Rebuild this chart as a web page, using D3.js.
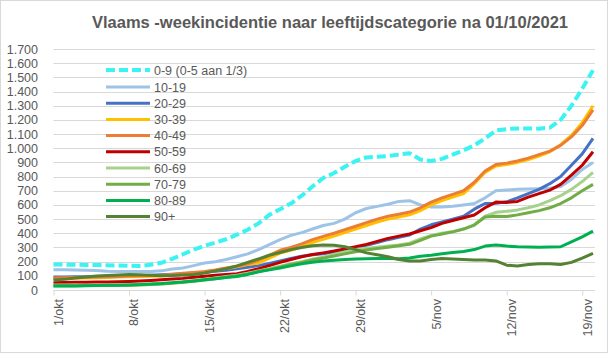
<!DOCTYPE html>
<html>
<head>
<meta charset="utf-8">
<script src="https://cdn.jsdelivr.net/npm/d3@7"></script>
<style>
  body { margin: 0; background: #fff; }
  text { font-family: "Liberation Sans", Arial, sans-serif; fill: #595959; }
</style>
</head>
<body>
<div id="chart"></div>
<script>
// dagen 1/okt .. 20/nov
const categories = [
  ...d3.range(1, 32).map(d => `${d}/okt`),
  ...d3.range(1, 21).map(d => `${d}/nov`)
];
const tickLabels = ['1/okt', '8/okt', '15/okt', '22/okt', '29/okt', '5/nov', '12/nov', '19/nov'];
const yTicks = d3.range(0, 1701, 100);

const s0_9 = [180, 179, 178, 177, 176, 175, 173, 171, 170, 178, 192, 220, 252, 285, 312, 334, 358, 390, 425, 470,
  530, 570, 610, 665, 730, 790, 825, 870, 910, 935, 940, 945, 955, 965, 920, 910, 925, 955, 985, 1020,
  1070, 1125, 1135, 1140, 1140, 1138, 1145, 1200, 1300, 1420, 1550];
const s10_19 = [142, 142, 141, 140, 138, 132, 130, 130, 130, 131, 135, 148, 155, 172, 190, 200, 215, 235, 255, 285,
  320, 355, 385, 405, 430, 455, 470, 500, 545, 575, 590, 605, 625, 630, 600, 585, 585, 590, 600, 610,
  650, 700, 705, 710, 712, 715, 718, 730, 780, 850, 900];
const s20_29 = [92, 92, 93, 93, 94, 95, 97, 99, 101, 104, 108, 111, 115, 120, 125, 132, 140, 150, 160, 172,
  188, 205, 222, 238, 248, 255, 268, 282, 298, 315, 335, 355, 372, 388, 430, 460, 480, 500, 520, 570,
  610, 612, 622, 650, 680, 710, 750, 800, 880, 960, 1070];
const s30_39 = [80, 81, 83, 85, 87, 89, 91, 93, 95, 97, 99, 105, 113, 119, 125, 137, 151, 163, 180, 190,
  225, 260, 280, 305, 335, 358, 380, 405, 430, 455, 480, 500, 515, 530, 560, 600, 630, 655, 680, 750,
  830, 875, 885, 900, 920, 945, 975, 1025, 1090, 1180, 1300];
const s40_49 = [85, 86, 88, 90, 92, 94, 96, 98, 100, 102, 104, 110, 118, 124, 130, 142, 156, 168, 185, 210,
  245, 280, 300, 325, 355, 378, 400, 425, 450, 475, 500, 520, 535, 550, 580, 620, 650, 675, 700, 760,
  840, 885, 895, 910, 930, 955, 980, 1020, 1080, 1160, 1270];
const s50_59 = [52, 53, 54, 55, 56, 57, 58, 60, 63, 67, 72, 77, 82, 90, 97, 104, 110, 115, 130, 150,
  172, 195, 215, 235, 250, 262, 275, 290, 305, 322, 343, 364, 380, 395, 418, 440, 470, 490, 510, 529,
  580, 620, 618, 625, 655, 680, 705, 745, 810, 880, 975];
const s60_69 = [35, 35, 35, 34, 34, 34, 35, 36, 38, 40, 44, 50, 58, 66, 75, 85, 95, 105, 118, 135,
  150, 168, 185, 200, 218, 232, 250, 268, 285, 295, 302, 310, 318, 330, 360, 385, 400, 412, 430, 460,
  520, 548, 555, 565, 580, 600, 630, 665, 710, 765, 830];
const s70_79 = [30, 30, 30, 31, 31, 32, 33, 34, 36, 39, 43, 48, 55, 62, 70, 80, 90, 100, 113, 130,
  145, 162, 180, 195, 212, 225, 240, 255, 270, 282, 292, 302, 312, 322, 350, 380, 395, 410, 430, 458,
  515, 520, 518, 530, 545, 560, 580, 610, 650, 700, 745];
const s80_89 = [28, 28, 29, 30, 32, 33, 34, 36, 38, 42, 46, 52, 57, 64, 72, 80, 88, 95, 110, 128,
  142, 155, 170, 185, 195, 205, 210, 215, 218, 220, 222, 222, 220, 225, 238, 245, 255, 265, 272, 285,
  310, 318, 310, 305, 303, 302, 303, 305, 340, 375, 415];
const s90 = [70, 75, 85, 92, 98, 102, 106, 110, 108, 104, 100, 102, 106, 110, 120, 135, 150, 170, 195, 220,
  245, 265, 285, 300, 312, 318, 315, 305, 285, 262, 248, 235, 215, 205, 205, 215, 222, 218, 215, 212,
  212, 205, 175, 170, 180, 185, 185, 180, 195, 225, 258];

const seriesNames = ['0-9 (0-5 aan 1/3)', '10-19', '20-29', '30-39', '40-49', '50-59', '60-69', '70-79', '80-89', '90+'];
const seriesValues = [s0_9, s10_19, s20_29, s30_39, s40_49, s50_59, s60_69, s70_79, s80_89, s90];
const seriesColors = ['#3CF3F3', '#9DC3E6', '#4472C4', '#FFC000', '#ED7D31', '#C00000', '#A9D18E', '#70AD47', '#00B050', '#548235'];

const width = 608;
const height = 353;
const plotLeft = 53.5;
const plotRight = 593;
const plotTop = 49;
const plotBottom = 290;

const svg = d3.select('#chart').append('svg')
  .attr('width', width)
  .attr('height', height);

svg.append('rect')
  .attr('x', 0.5).attr('y', 0.5)
  .attr('width', width - 1).attr('height', height - 1)
  .attr('fill', '#fff')
  .attr('stroke', '#D9D9D9');

const x = d3.scalePoint().domain(categories).range([plotLeft, plotRight]);
const y = d3.scaleLinear().domain([0, 1700]).range([plotBottom, plotTop]);

const nl = d3.formatLocale({ decimal: ',', thousands: '.', grouping: [3], currency: ['€', ''] });
const fmt = nl.format(',');

// rasterlijnen
svg.append('g')
  .selectAll('line')
  .data(yTicks.slice(1))
  .enter()
  .append('line')
  .attr('x1', plotLeft).attr('x2', 595)
  .attr('y1', d => Math.round(y(d)) + 0.5)
  .attr('y2', d => Math.round(y(d)) + 0.5)
  .attr('stroke', '#D9D9D9');

// y-as labels
svg.append('g')
  .selectAll('text')
  .data(yTicks)
  .enter()
  .append('text')
  .attr('x', 38)
  .attr('y', d => y(d))
  .attr('dy', '0.36em')
  .attr('text-anchor', 'end')
  .attr('font-size', 12.5)
  .text(d => fmt(d));

// x-as
const xAxis = d3.axisBottom(x)
  .tickValues(tickLabels)
  .tickSize(5)
  .tickFormat('');
const gx = svg.append('g')
  .attr('transform', `translate(0,${Math.round(plotBottom) + 0.5})`)
  .call(xAxis);
gx.select('.domain').attr('stroke', '#D9D9D9').attr('d', `M${plotLeft},0H595`);
gx.selectAll('.tick line').attr('stroke', '#D9D9D9');

svg.append('g')
  .selectAll('text')
  .data(tickLabels)
  .enter()
  .append('text')
  .attr('transform', d => `translate(${x(d) + 5},299) rotate(-90)`)
  .attr('text-anchor', 'end')
  .attr('dy', '0.35em')
  .attr('font-size', 12.5)
  .text(d => d);

// lijnen
const line = d3.line()
  .x((d, i) => x(categories[i]))
  .y(d => y(d));

svg.append('g')
  .selectAll('path')
  .data(seriesValues)
  .enter()
  .append('path')
  .attr('d', line)
  .attr('fill', 'none')
  .attr('stroke', (d, i) => seriesColors[i])
  .attr('stroke-width', (d, i) => (i === 0 ? 4 : 3))
  .attr('stroke-dasharray', (d, i) => (i === 0 ? '9,4' : null))
  .attr('stroke-linejoin', 'round');

// legenda
const legend = svg.append('g')
  .selectAll('g')
  .data(seriesNames)
  .enter()
  .append('g')
  .attr('transform', (d, i) => `translate(106,${i === 0 ? 70 : 87 + (i - 1) * 16.2})`);

legend.append('line')
  .attr('x1', 0).attr('x2', 44)
  .attr('stroke', (d, i) => seriesColors[i])
  .attr('stroke-width', (d, i) => (i === 0 ? 4 : 3))
  .attr('stroke-dasharray', (d, i) => (i === 0 ? '9,4' : null));

legend.append('text')
  .attr('x', 48)
  .attr('dy', '0.36em')
  .attr('font-size', 12.5)
  .text(d => d);

// titel
svg.append('text')
  .attr('x', 330)
  .attr('y', 28)
  .attr('text-anchor', 'middle')
  .attr('font-size', 16.5)
  .attr('font-weight', 'bold')
  .text('Vlaams -weekincidentie naar leeftijdscategorie na 01/10/2021');
</script>
</body>
</html>
